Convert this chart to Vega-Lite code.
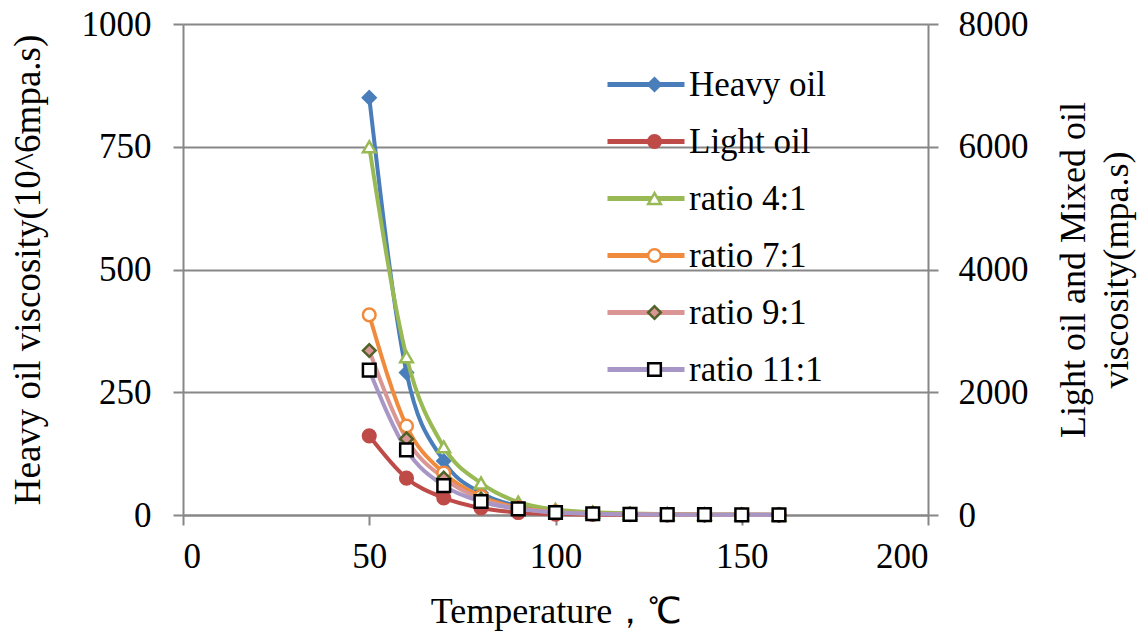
{
  "$schema": "https://vega.github.io/schema/vega-lite/v6.json",
  "width": 745,
  "height": 491,
  "autosize": "none",
  "padding": {"left": 183, "top": 24, "right": 214, "bottom": 122},
  "background": "white",
  "config": {
    "view": {"stroke": null},
    "font": "'Liberation Serif', 'Times New Roman', serif",
    "axis": {
      "labelFont": "'Liberation Serif', 'Times New Roman', serif",
      "titleFont": "'Liberation Serif', 'Times New Roman', serif",
      "labelFontSize": 35,
      "titleFontSize": 36,
      "labelColor": "#000000",
      "titleColor": "#000000",
      "titleFontWeight": "normal",
      "domainColor": "#878787",
      "domainWidth": 2,
      "tickColor": "#878787",
      "tickWidth": 2,
      "tickSize": 10,
      "gridColor": "#878787",
      "gridWidth": 2,
      "gridOpacity": 1,
      "format": "d"
    },
    "legend": {
      "labelFont": "'Liberation Serif', 'Times New Roman', serif",
      "labelFontSize": 35,
      "labelColor": "#000000",
      "padding": 0
    }
  },
  "data": {
    "values": [
      {"t": 50, "s": "Heavy oil", "v": 850, "o": 0},
      {"t": 60, "s": "Heavy oil", "v": 290, "o": 0},
      {"t": 70, "s": "Heavy oil", "v": 110, "o": 0},
      {"t": 80, "s": "Heavy oil", "v": 45, "o": 0},
      {"t": 90, "s": "Heavy oil", "v": 18, "o": 0},
      {"t": 100, "s": "Heavy oil", "v": 8, "o": 0},
      {"t": 110, "s": "Heavy oil", "v": 4, "o": 0},
      {"t": 120, "s": "Heavy oil", "v": 2, "o": 0},
      {"t": 130, "s": "Heavy oil", "v": 1, "o": 0},
      {"t": 140, "s": "Heavy oil", "v": 0.6, "o": 0},
      {"t": 150, "s": "Heavy oil", "v": 0.4, "o": 0},
      {"t": 160, "s": "Heavy oil", "v": 0.3, "o": 0},
      {"t": 50, "s": "Light oil", "v": 1290, "o": 1},
      {"t": 60, "s": "Light oil", "v": 600, "o": 1},
      {"t": 70, "s": "Light oil", "v": 280, "o": 1},
      {"t": 80, "s": "Light oil", "v": 115, "o": 1},
      {"t": 90, "s": "Light oil", "v": 40, "o": 1},
      {"t": 100, "s": "Light oil", "v": 15, "o": 1},
      {"t": 110, "s": "Light oil", "v": 8, "o": 1},
      {"t": 120, "s": "Light oil", "v": 5, "o": 1},
      {"t": 130, "s": "Light oil", "v": 3, "o": 1},
      {"t": 140, "s": "Light oil", "v": 2, "o": 1},
      {"t": 150, "s": "Light oil", "v": 1.5, "o": 1},
      {"t": 160, "s": "Light oil", "v": 1, "o": 1},
      {"t": 50, "s": "ratio 4:1", "v": 6000, "o": 2},
      {"t": 60, "s": "ratio 4:1", "v": 2580, "o": 2},
      {"t": 70, "s": "ratio 4:1", "v": 1110, "o": 2},
      {"t": 80, "s": "ratio 4:1", "v": 520, "o": 2},
      {"t": 90, "s": "ratio 4:1", "v": 210, "o": 2},
      {"t": 100, "s": "ratio 4:1", "v": 90, "o": 2},
      {"t": 110, "s": "ratio 4:1", "v": 45, "o": 2},
      {"t": 120, "s": "ratio 4:1", "v": 25, "o": 2},
      {"t": 130, "s": "ratio 4:1", "v": 15, "o": 2},
      {"t": 140, "s": "ratio 4:1", "v": 10, "o": 2},
      {"t": 150, "s": "ratio 4:1", "v": 7, "o": 2},
      {"t": 160, "s": "ratio 4:1", "v": 5, "o": 2},
      {"t": 50, "s": "ratio 7:1", "v": 3260, "o": 3},
      {"t": 60, "s": "ratio 7:1", "v": 1450, "o": 3},
      {"t": 70, "s": "ratio 7:1", "v": 685, "o": 3},
      {"t": 80, "s": "ratio 7:1", "v": 300, "o": 3},
      {"t": 90, "s": "ratio 7:1", "v": 120, "o": 3},
      {"t": 100, "s": "ratio 7:1", "v": 50, "o": 3},
      {"t": 110, "s": "ratio 7:1", "v": 25, "o": 3},
      {"t": 120, "s": "ratio 7:1", "v": 14, "o": 3},
      {"t": 130, "s": "ratio 7:1", "v": 9, "o": 3},
      {"t": 140, "s": "ratio 7:1", "v": 6, "o": 3},
      {"t": 150, "s": "ratio 7:1", "v": 4, "o": 3},
      {"t": 160, "s": "ratio 7:1", "v": 3, "o": 3},
      {"t": 50, "s": "ratio 9:1", "v": 2680, "o": 4},
      {"t": 60, "s": "ratio 9:1", "v": 1240, "o": 4},
      {"t": 70, "s": "ratio 9:1", "v": 600, "o": 4},
      {"t": 80, "s": "ratio 9:1", "v": 260, "o": 4},
      {"t": 90, "s": "ratio 9:1", "v": 105, "o": 4},
      {"t": 100, "s": "ratio 9:1", "v": 45, "o": 4},
      {"t": 110, "s": "ratio 9:1", "v": 22, "o": 4},
      {"t": 120, "s": "ratio 9:1", "v": 12, "o": 4},
      {"t": 130, "s": "ratio 9:1", "v": 8, "o": 4},
      {"t": 140, "s": "ratio 9:1", "v": 5, "o": 4},
      {"t": 150, "s": "ratio 9:1", "v": 4, "o": 4},
      {"t": 160, "s": "ratio 9:1", "v": 3, "o": 4},
      {"t": 50, "s": "ratio 11:1", "v": 2360, "o": 5},
      {"t": 60, "s": "ratio 11:1", "v": 1060, "o": 5},
      {"t": 70, "s": "ratio 11:1", "v": 478, "o": 5},
      {"t": 80, "s": "ratio 11:1", "v": 220, "o": 5},
      {"t": 90, "s": "ratio 11:1", "v": 100, "o": 5},
      {"t": 100, "s": "ratio 11:1", "v": 40, "o": 5},
      {"t": 110, "s": "ratio 11:1", "v": 20, "o": 5},
      {"t": 120, "s": "ratio 11:1", "v": 11, "o": 5},
      {"t": 130, "s": "ratio 11:1", "v": 7, "o": 5},
      {"t": 140, "s": "ratio 11:1", "v": 5, "o": 5},
      {"t": 150, "s": "ratio 11:1", "v": 3, "o": 5},
      {"t": 160, "s": "ratio 11:1", "v": 2, "o": 5}
    ]
  },
  "encoding": {
    "x": {
      "field": "t",
      "type": "quantitative",
      "scale": {"domain": [0, 200], "nice": false, "zero": false},
      "axis": {
        "title": "Temperature，℃",
        "values": [0, 50, 100, 150, 200],
        "format": "d",
        "grid": false,
        "labelPadding": 14,
        "titlePadding": 20
      }
    }
  },
  "layer": [
    {
      "transform": [{"filter": "datum.s === 'Heavy oil'"}],
      "encoding": {
        "y": {
          "field": "v",
          "type": "quantitative",
          "scale": {"domain": [0, 1000], "nice": false},
          "axis": {
            "orient": "left",
            "title": "Heavy oil viscosity(10^6mpa.s)",
            "titleFontSize": 37,
            "values": [0, 250, 500, 750, 1000],
            "format": "d",
            "grid": true,
            "labelPadding": 22,
            "titlePadding": 34
          }
        }
      },
      "layer": [
        {
          "mark": {"type": "line", "interpolate": "monotone", "strokeWidth": 4},
          "encoding": {
            "color": {
              "field": "s",
              "type": "nominal",
              "scale": {
                "domain": ["Heavy oil", "Light oil", "ratio 4:1", "ratio 7:1", "ratio 9:1", "ratio 11:1"],
                "range": ["#4A7EBB", "#BE4B48", "#98B954", "#F08A3C", "#D99694", "#A897C6"]
              },
              "legend": {
                "orient": "none",
                "legendX": 422,
                "legendY": 32,
                "title": null,
                "symbolType": "stroke",
                "symbolSize": 5929,
                "symbolStrokeWidth": 5,
                "labelOffset": 2,
                "clipHeight": 57,
                "rowPadding": 0
              }
            }
          }
        },
        {
          "mark": {"type": "point", "filled": true, "size": 160, "strokeWidth": 2.5, "opacity": 1},
          "encoding": {
            "shape": {
              "field": "s",
              "type": "nominal",
              "sort": {"field": "o", "op": "min"},
              "scale": {"range": ["diamond", "circle", "triangle-up", "circle", "diamond", "square"]},
              "legend": {
                "orient": "none",
                "legendX": 422,
                "legendY": 32,
                "title": null,
                "symbolSize": 160,
                "symbolStrokeWidth": 2.5,
                "symbolOffset": 32,
                "labelOffset": 4,
                "labelExpr": "''",
                "labelOpacity": 0,
                "clipHeight": 57,
                "rowPadding": 0
              }
            },
            "fill": {
              "field": "s",
              "type": "nominal",
              "sort": {"field": "o", "op": "min"},
              "scale": {"range": ["#4A7EBB", "#BE4B48", "#FFFFFF", "#FFFFFF", "#D99694", "#FFFFFF"]}
            },
            "stroke": {
              "field": "s",
              "type": "nominal",
              "sort": {"field": "o", "op": "min"},
              "scale": {"range": ["#4A7EBB", "#BE4B48", "#98B954", "#F08A3C", "#4F6228", "#000000"]}
            }
          }
        }
      ]
    },
    {
      "transform": [{"filter": "datum.s !== 'Heavy oil'"}],
      "encoding": {
        "y": {
          "field": "v",
          "type": "quantitative",
          "scale": {"domain": [0, 8000], "nice": false},
          "axis": {
            "orient": "right",
            "title": ["Light oil and Mixed oil", "viscosity(mpa.s)"],
            "titleAngle": 270,
            "titleLineHeight": 43,
            "values": [0, 2000, 4000, 6000, 8000],
            "format": "d",
            "grid": false,
            "labelPadding": 20,
            "titlePadding": 21
          }
        }
      },
      "layer": [
        {
          "mark": {"type": "line", "interpolate": "monotone", "strokeWidth": 4},
          "encoding": {
            "color": {"field": "s", "type": "nominal"}
          }
        },
        {
          "mark": {"type": "point", "filled": true, "size": 160, "strokeWidth": 2.5, "opacity": 1},
          "encoding": {
            "shape": {"field": "s", "type": "nominal", "sort": {"field": "o", "op": "min"}},
            "fill": {"field": "s", "type": "nominal", "sort": {"field": "o", "op": "min"}},
            "stroke": {"field": "s", "type": "nominal", "sort": {"field": "o", "op": "min"}}
          }
        }
      ]
    }
  ],
  "resolve": {"scale": {"y": "independent"}}
}
